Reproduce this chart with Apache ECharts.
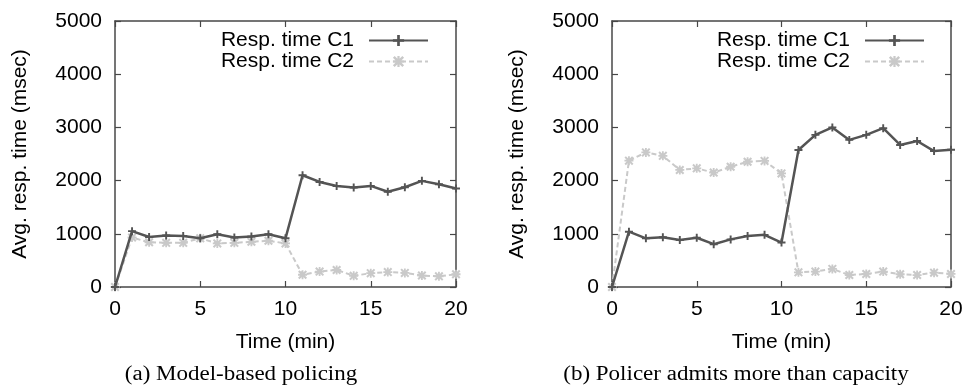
<!DOCTYPE html>
<html>
<head>
<meta charset="utf-8">
<script src="https://cdn.jsdelivr.net/npm/echarts@6/dist/echarts.min.js"></script>
<style>
  html, body { margin: 0; padding: 0; background: #fff; }
  #chart { width: 966px; height: 385px; }
</style>
</head>
<body>
<div id="chart"></div>
<script>
// ---- data ----
const timeMin = [0,1,2,3,4,5,6,7,8,9,10,11,12,13,14,15,16,17,18,19,20];
const seriesNames = ['Resp. time C1', 'Resp. time C2'];
// (a) Model-based policing
const aC1 = [0,1050,940,970,960,915,990,930,950,990,915,2100,1975,1900,1870,1900,1790,1875,1995,1930,1850];
const aC2 = [0,930,840,830,830,915,820,830,850,870,820,230,290,320,210,260,280,265,215,200,240];
// (b) Policer admits more than capacity
const bC1 = [0,1040,915,935,885,925,805,895,960,980,835,2575,2860,3000,2765,2860,2985,2670,2745,2555,2580];
const bC2 = [0,2375,2530,2465,2200,2230,2150,2260,2355,2370,2135,275,290,340,225,245,290,240,225,270,245];
const xTicks = { min: 0, max: 20, interval: 5 };
const yTicks = { min: 0, max: 5000, interval: 1000 };
const captions = ['(a) Model-based policing', '(b) Policer admits more than capacity'];
const xTitle = 'Time (min)';
const yTitle = 'Avg. resp. time (msec)';

// ---- styles ----
const frameColor = '#474747';
const c1Color = '#545454';
const c2Color = '#c9c9c9';
const plusPath = 'path://M3.8,0H6.2V3.8H10V6.2H6.2V10H3.8V6.2H0V3.8H3.8Z';
const starPath = 'path://M0,1.6L1.6,0L5,3.4L8.4,0L10,1.6L6.6,5L10,8.4L8.4,10L5,6.6L1.6,10L0,8.4L3.4,5Z M4,0H6V10H4Z M0,4H10V6H0Z';
const font = 'Liberation Sans';

const grids = [
  { left: 115, top: 21, width: 341, height: 266 },
  { left: 612, top: 21, width: 339, height: 266 }
];

const axisLine = { show: true, onZero: false, lineStyle: { color: frameColor, width: 1.5 } };
const axisTick = { show: true, inside: true, length: 6, lineStyle: { color: frameColor, width: 1.2 } };
const plain = v => String(v);

const xAxis = [], yAxis = [];
grids.forEach((g, i) => {
  xAxis.push({
    type: 'value', gridIndex: i, position: 'bottom', ...xTicks,
    name: xTitle, nameLocation: 'middle', nameGap: 45,
    nameTextStyle: { fontFamily: font, fontSize: 21, color: '#000' },
    axisLine, axisTick,
    axisLabel: { fontFamily: font, fontSize: 21, color: '#000', margin: 12, formatter: plain },
    splitLine: { show: false }
  });
  xAxis.push({
    type: 'value', gridIndex: i, position: 'top', ...xTicks,
    axisLine, axisTick, axisLabel: { show: false }, splitLine: { show: false }
  });
  yAxis.push({
    type: 'value', gridIndex: i, position: 'left', ...yTicks,
    name: yTitle, nameLocation: 'middle', nameGap: 84, nameRotate: 90,
    nameTextStyle: { fontFamily: font, fontSize: 21, color: '#000' },
    axisLine, axisTick,
    axisLabel: { fontFamily: font, fontSize: 21, color: '#000', margin: 13, formatter: plain },
    splitLine: { show: false }
  });
  yAxis.push({
    type: 'value', gridIndex: i, position: 'right', ...yTicks,
    axisLine, axisTick, axisLabel: { show: false }, splitLine: { show: false }
  });
});

function pairs(vals) { return timeMin.map((t, k) => [t, vals[k]]); }

function c1Series(vals, gi) {
  return {
    name: seriesNames[0], type: 'line', xAxisIndex: gi * 2, yAxisIndex: gi * 2,
    data: pairs(vals), symbol: plusPath, symbolSize: 8, showSymbol: true,
    lineStyle: { color: c1Color, width: 2.5 }, itemStyle: { color: c1Color },
    z: 3, animation: false
  };
}
function c2Series(vals, gi) {
  return {
    name: seriesNames[1], type: 'line', xAxisIndex: gi * 2, yAxisIndex: gi * 2,
    data: pairs(vals), symbol: starPath, symbolSize: 9, showSymbol: true,
    lineStyle: { color: c2Color, width: 2, type: [5, 3] }, itemStyle: { color: c2Color },
    z: 2, animation: false
  };
}

const legendBase = {
  orient: 'vertical', align: 'right', top: 25,
  itemWidth: 59, itemHeight: 14, itemGap: 0,
  data: seriesNames,
  textStyle: { fontFamily: font, fontSize: 21, color: '#000', lineHeight: 20, padding: [0, 10, 0, 0] }
};

const option = {
  backgroundColor: '#fff',
  animation: false,
  grid: grids,
  xAxis, yAxis,
  legend: [
    Object.assign({}, legendBase, { right: 532 }),
    Object.assign({}, legendBase, { right: 36 })
  ],
  series: [
    c2Series(aC2, 0), c1Series(aC1, 0),
    c2Series(bC2, 1), c1Series(bC1, 1)
  ],
  graphic: [
    { type: 'text', x: 241, y: 375, scaleX: 1.15,
      style: { text: captions[0], font: '20px "Liberation Serif"', fill: '#000', align: 'center', verticalAlign: 'middle', textAlign: 'center', textVerticalAlign: 'middle' } },
    { type: 'text', x: 736, y: 375, scaleX: 1.15,
      style: { text: captions[1], font: '20px "Liberation Serif"', fill: '#000', align: 'center', verticalAlign: 'middle', textAlign: 'center', textVerticalAlign: 'middle' } }
  ]
};

const chart = echarts.init(document.getElementById('chart'), null, { renderer: 'canvas' });
chart.setOption(option);
</script>
</body>
</html>
